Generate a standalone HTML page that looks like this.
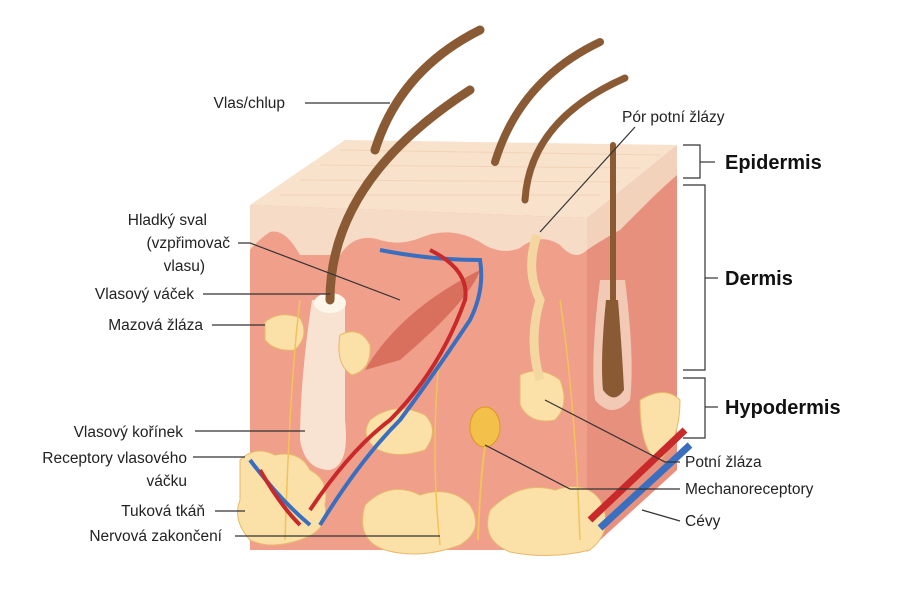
<!DOCTYPE html>
<html><head><meta charset="utf-8"><style>
html,body{margin:0;padding:0;background:#fff;}
svg{display:block;}
text{font-family:"Liberation Sans",sans-serif;font-size:15.5px;fill:#222;}
.r{text-anchor:end;}
.b{font-weight:bold;font-size:20px;fill:#111;}
</style></head><body>
<svg width="900" height="600" viewBox="0 0 900 600">
<polygon points="587,218 677,145 677,470 587,552" fill="#e8907e"/>
<rect x="250" y="205" width="337" height="345" fill="#ef9f8a"/>
<polygon points="250,205 345,140 677,145 587,218" fill="#f8e2cc"/>
<g stroke="#efcfb2" stroke-width="1" fill="none" opacity="0.8">
<path d="M280,195 L600,195 M300,180 L620,182 M320,165 L640,168 M340,150 L660,155"/>
</g>
<path d="M250,205 L587,218 L587,250 Q575,262 560,245 Q540,232 520,248 Q500,256 480,242 Q450,225 420,238 Q400,246 380,240 Q355,232 340,255 L300,255 Q285,228 270,232 Q258,240 250,250 Z" fill="#f6dcc6"/>
<path d="M587,218 L677,145 L677,175 Q660,190 650,200 Q635,215 620,230 Q605,238 587,250 Z" fill="#f3d2bc"/>
<path d="M312,300 Q300,380 300,440 Q305,470 330,470 Q350,465 345,420 L345,300 Z" fill="#f8e2d2"/>
<ellipse cx="330" cy="303" rx="16" ry="10" fill="#fff6ea"/>
<path d="M600,280 Q590,360 595,400 Q612,420 630,400 Q635,360 625,280 Z" fill="#f2c9b4"/>
<path d="M606,300 Q600,360 603,390 Q614,405 624,390 Q622,350 618,300 Z" fill="#8a5a34"/>
<g fill="none" stroke="#8a5a34" stroke-linecap="round">
<path d="M375,150 Q400,70 480,30" stroke-width="9"/>
<path d="M330,300 Q330,180 470,90" stroke-width="9"/>
<path d="M495,162 Q520,80 600,42" stroke-width="8"/>
<path d="M525,200 Q530,120 625,78" stroke-width="7"/>
<path d="M613,145 L613,300" stroke-width="6"/>
</g>
<g fill="#fbe0a8" stroke="#e8b96c" stroke-width="1">
<path d="M240,460 Q255,445 275,455 Q300,450 310,470 Q330,480 325,505 Q330,530 300,540 Q270,550 250,540 Q232,520 240,500 Z"/>
<path d="M365,505 Q390,480 420,495 Q450,485 470,505 Q485,530 460,545 Q420,560 385,550 Q355,540 365,505 Z"/>
<path d="M490,510 Q520,480 555,490 Q585,480 600,500 Q615,530 590,550 Q550,560 510,552 Q480,540 490,510 Z"/>
<path d="M370,420 Q395,400 425,415 Q440,430 425,450 Q395,460 375,448 Q360,435 370,420 Z"/>
<path d="M265,322 Q280,310 300,318 Q310,335 295,350 Q275,352 265,340 Z"/>
<path d="M340,335 Q360,325 370,345 Q372,370 352,375 Q335,365 340,335 Z"/>
<path d="M520,375 Q540,365 560,380 Q570,405 555,420 Q530,425 520,405 Z"/>
<path d="M640,400 Q665,385 680,400 Q680,440 660,460 Q640,455 640,400 Z"/>
</g>
<path d="M537,235 Q525,270 540,300 Q528,340 540,380" fill="none" stroke="#f3d6a0" stroke-width="9"/>
<path d="M365,370 Q400,310 480,270 Q470,300 400,360 Z" fill="#d9705e"/>
<ellipse cx="485" cy="427" rx="15" ry="20" fill="#f3c14a" stroke="#d99a20"/>
<path d="M485,447 Q480,480 478,540" fill="none" stroke="#f1c35a" stroke-width="2"/>
<g fill="none" stroke="#f1c35a" stroke-width="1.5">
<path d="M300,300 Q290,380 285,540"/><path d="M440,350 Q430,450 440,545"/><path d="M560,300 Q575,400 580,540"/>
</g>
<g fill="none" stroke-width="4">
<path d="M250,460 Q280,500 310,525 M320,525 Q360,460 400,420 Q430,380 470,320 Q485,290 480,260 Q430,260 380,250" stroke="#3a6fc0"/>
<path d="M260,470 Q280,505 300,525 M310,510 Q350,450 390,420 Q440,370 465,300 Q470,270 430,250" stroke="#c8292b"/>
</g>
<line x1="590" y1="520" x2="685" y2="430" stroke="#c8292b" stroke-width="7"/>
<line x1="600" y1="528" x2="690" y2="445" stroke="#3a6fc0" stroke-width="7"/>
<g stroke="#333" stroke-width="1.2" fill="none">
<line x1="305" y1="103" x2="390" y2="103"/>
<polyline points="238,243 250,243 400,300"/>
<line x1="203" y1="294" x2="330" y2="294"/>
<line x1="212" y1="325" x2="265" y2="325"/>
<line x1="195" y1="431" x2="305" y2="431"/>
<line x1="193" y1="457" x2="245" y2="457"/>
<line x1="215" y1="511" x2="245" y2="511"/>
<line x1="235" y1="536" x2="440" y2="536"/>
<line x1="635" y1="127" x2="540" y2="232"/>
<polyline points="680,462 665,462 545,400"/>
<polyline points="680,489 570,489 485,445"/>
<polyline points="680,521 642,510 M680,521 600,525"/>
<polyline points="683,145 700,145 700,178 683,178"/><line x1="700" y1="162" x2="715" y2="162"/>
<polyline points="683,185 705,185 705,370 683,370"/><line x1="705" y1="278" x2="718" y2="278"/>
<polyline points="683,378 705,378 705,438 683,438"/><line x1="705" y1="407" x2="718" y2="407"/>
</g>
<text class="r" x="285" y="108">Vlas/chlup</text>
<text class="r" x="207" y="225">Hladký sval</text>
<text class="r" x="230" y="248">(vzpřimovač</text>
<text class="r" x="205" y="271">vlasu)</text>
<text class="r" x="194" y="299">Vlasový váček</text>
<text class="r" x="203" y="330">Mazová žláza</text>
<text class="r" x="183" y="437">Vlasový kořínek</text>
<text class="r" x="187" y="463">Receptory vlasového</text>
<text class="r" x="187" y="486">váčku</text>
<text class="r" x="205" y="516">Tuková tkáň</text>
<text class="r" x="222" y="541">Nervová zakončení</text>
<text x="622" y="122">Pór potní žlázy</text>
<text x="685" y="467">Potní žláza</text>
<text x="685" y="494">Mechanoreceptory</text>
<text x="685" y="526">Cévy</text>
<text class="b" x="725" y="169">Epidermis</text>
<text class="b" x="725" y="285">Dermis</text>
<text class="b" x="725" y="414">Hypodermis</text>
</svg>
</body></html>
